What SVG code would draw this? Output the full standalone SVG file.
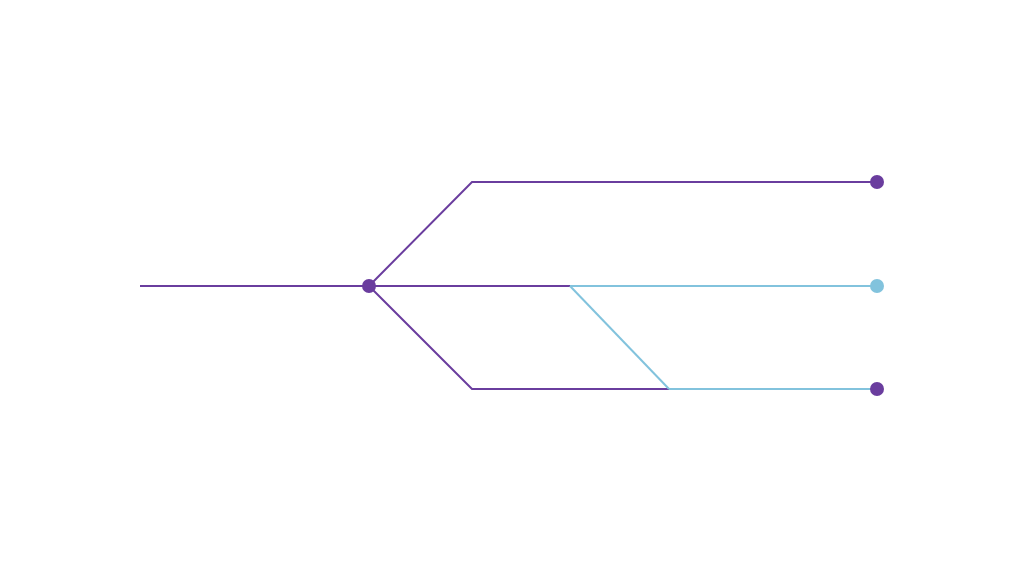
<svg xmlns="http://www.w3.org/2000/svg" width="1024" height="572" viewBox="0 0 1024 572">
<style>
.p{stroke:#6a3d9e;stroke-width:2;fill:none}
.b{stroke:#82c3dd;stroke-width:2;fill:none}
.dp{fill:#6a3d9e}
.db{fill:#82c3dd}
</style>
<rect width="1024" height="572" fill="#ffffff"/>
<g id="connectors">
<path class="p" d="M140 286 H369"/>
<path class="p" d="M369 286 L472 182 H877"/>
<path class="p" d="M369 286 H570"/>
<path class="b" d="M570 286 H877"/>
<path class="p" d="M369 286 L472 389 H669"/>
<path class="b" d="M669 389 H877"/>
<path class="b" d="M570 286 L669 389"/>
</g>
<g id="node-center"><circle class="dp" cx="369" cy="286" r="7"/></g>
<g id="node-top"><circle class="dp" cx="877" cy="182" r="7"/></g>
<g id="node-middle"><circle class="db" cx="877" cy="286" r="7"/></g>
<g id="node-bottom"><circle class="dp" cx="877" cy="389" r="7"/></g>
</svg>
